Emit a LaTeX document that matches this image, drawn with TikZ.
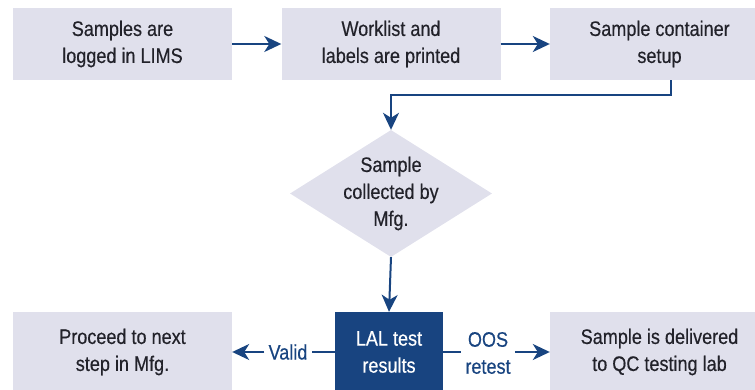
\documentclass[tikz,border=0pt]{standalone}
\usepackage{fontspec}
\setmainfont{Liberation Sans}[FakeStretch=0.86, FakeBold=0.4]
\usetikzlibrary{arrows.meta,shapes.geometric}
\definecolor{boxfill}{RGB}{224,224,236}
\definecolor{navy}{RGB}{24,68,128}
\definecolor{ink}{RGB}{34,34,42}
\begin{document}
\begin{tikzpicture}[x=1pt,y=-1pt,
  every node/.style={font=\fontsize{21}{27}\selectfont, text=ink},
  stepbox/.style={fill=boxfill, minimum width=219pt, minimum height=72pt,
                  align=center, inner sep=0pt},
  lowbox/.style={stepbox, minimum height=80pt},
  resultbox/.style={fill=navy, text=white, minimum width=108pt,
                    minimum height=80pt, align=center, inner sep=0pt},
  decision/.style={diamond, fill=boxfill, minimum width=202pt,
                   minimum height=127pt, inner sep=0pt},
  branch/.style={text=navy, align=center, inner sep=4pt},
  flow/.style={draw=navy, line width=2pt,
               -{Stealth[length=17pt, width=16pt, inset=5pt]}},
  plain/.style={draw=navy, line width=2pt}
]
\clip (0,0) rectangle (755,390);

% top row of process steps
\node[stepbox] (logged)  at (122.5,44) {Samples are\\logged in LIMS};
\node[stepbox] (printed) at (391,44)   {Worklist and\\labels are printed};
\node[stepbox] (setup)   at (659.5,44) {Sample container\\setup};

% collection decision
\node[decision] (collect) at (391,193.5) {};
\node[align=center, inner sep=0pt] (collecttext) at (collect) {Sample\\collected by\\Mfg.};

% bottom row
\node[lowbox]    (proceed)   at (122.5,352) {Proceed to next\\step in Mfg.};
\node[resultbox] (lal)       at (389,352)   {LAL test\\results};
\node[lowbox]    (delivered) at (659.5,352) {Sample is delivered\\to QC testing lab};

% branch labels
\node[branch] (valid) at (288,352) {Valid};
\node[branch] (oos)   at (488,353) {OOS\\retest};

% connectors
\draw[flow] (logged) -- (printed);
\draw[flow] (printed) -- (setup);
\draw[flow] ([xshift=11pt]setup.south) -- ++(0,15) -| (collect.north);
\draw[flow] (collect.south) -- (lal.north);
\draw[plain] (lal.west) -- (lal.west -| valid.east);
\draw[flow] (lal.west -| valid.west) -- (lal.west -| proceed.east);
\draw[plain] (lal.east) -- (lal.east -| oos.west);
\draw[flow] (lal.east -| oos.east) -- (lal.east -| delivered.west);
\end{tikzpicture}
\end{document}
